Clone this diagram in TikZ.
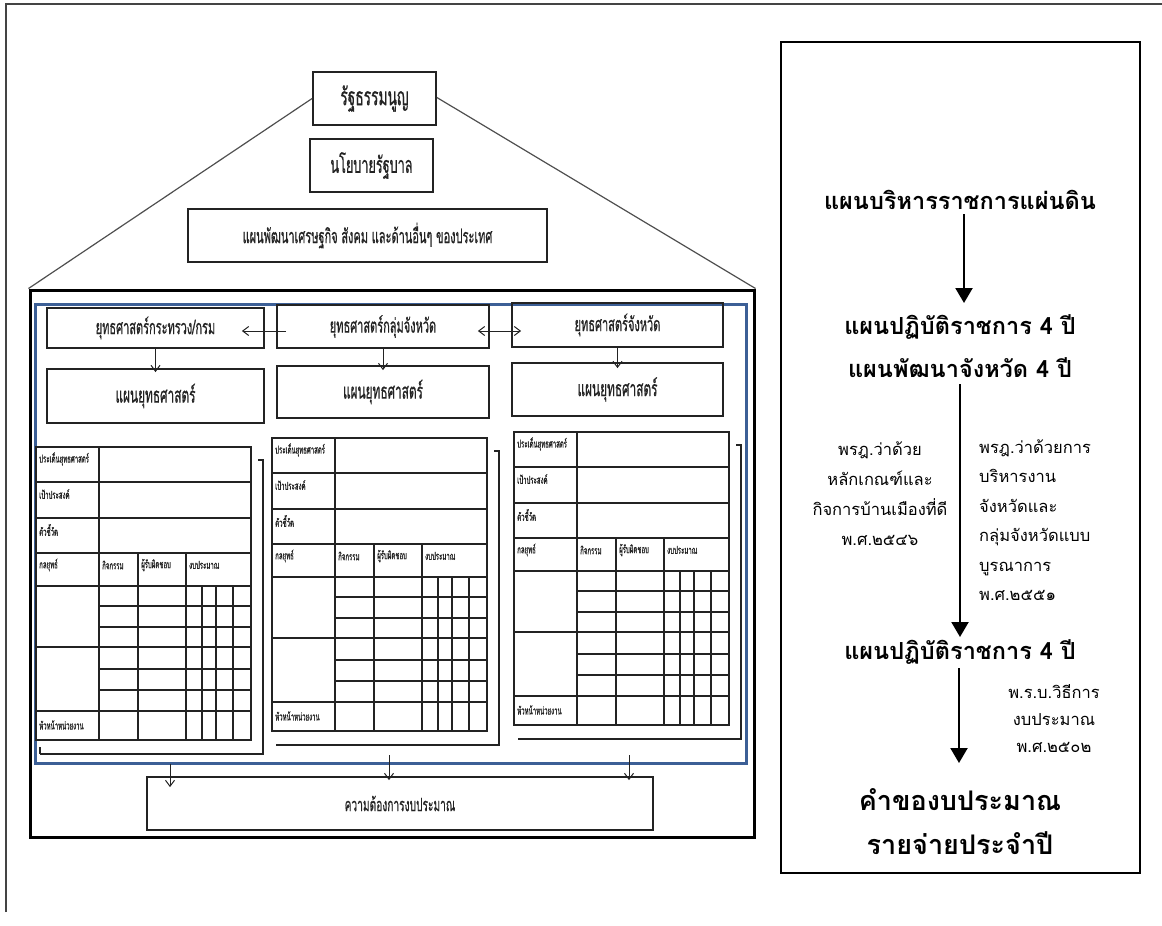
\documentclass[tikz,border=0pt]{standalone}
\usepackage{fontspec}
\setmainfont[Script=Thai]{Loma}
\newfontfamily\thc[Script=Thai,FakeStretch=0.55,FakeBold=0.6]{Loma}
\usetikzlibrary{arrows.meta,calc}
\definecolor{frameblue}{RGB}{60,95,150}
\definecolor{ink}{RGB}{35,35,35}
\tikzset{
  lbox/.style={draw=ink, line width=1.8pt, inner sep=1pt, font=\thc\fontsize{20}{22}\selectfont, text=ink},
  arr/.style={draw=ink, line width=1pt, -{Straight Barb[length=6pt,width=9pt]}},
  darr/.style={draw=ink, line width=1pt, {Straight Barb[length=6pt,width=9pt]}-{Straight Barb[length=6pt,width=9pt]}},
  bigarr/.style={draw=black, line width=2.2pt, -{Triangle[length=15pt,width=17pt]}},
  tline/.style={draw=ink, line width=1.4pt},
  tlab/.style={anchor=west, inner sep=0pt, font=\thc\fontsize{11}{12}\selectfont, text=ink},
  ttl/.style={font=\bfseries\fontsize{23.5}{26}\selectfont, inner sep=0pt},
  big/.style={font=\bfseries\fontsize{27}{29}\selectfont, inner sep=0pt},
  note/.style={font=\fontsize{16.5}{30}\selectfont, inner sep=0pt},
}
\newcommand{\formtab}[3]{%
  \begin{scope}[shift={(#2,#3)}]
    \draw[tline] (0,0) rectangle (215,293);
    \foreach \r in {35,71,106,139,200,264} \draw[tline] (0,\r) -- (215,\r);
    \foreach \r in {159,180,222,243} \draw[tline] (63,\r) -- (215,\r);
    \draw[tline] (63,0) -- (63,293);
    \foreach \c in {102,150} \draw[tline] (\c,106) -- (\c,293);
    \foreach \c in {166,180,197} \draw[tline] (\c,139) -- (\c,293);
    \node[tlab] (#1a) at (3,12) {ประเด็นยุทธศาสตร์};
    \node[tlab] (#1b) at (3,47) {เป้าประสงค์};
    \node[tlab] (#1c) at (3,83) {ตัวชี้วัด};
    \node[tlab] (#1d) at (3,118) {กลยุทธ์};
    \node[tlab] (#1e) at (66,118) {กิจกรรม};
    \node[tlab] (#1f) at (105,118) {ผู้รับผิดชอบ};
    \node[tlab] (#1g) at (153,118) {งบประมาณ};
    \node[tlab] (#1h) at (3,278) {หัวหน้าหน่วยงาน};
    \draw[tline, line width=1.6pt] (222,13) -- (227,13) -- (227,307) -- (4,307);
  \end{scope}}
\begin{document}
\begin{tikzpicture}[x=1pt,y=-1pt]
\useasboundingbox (0,0) rectangle (1162,926);
% outer frame lines
\draw[draw=ink!85, line width=1.4pt] (6,912) -- (6,4) -- (1162,4);
% top pyramid
\node[lbox, minimum width=123, minimum height=53, font=\thc\fontsize{25}{27}\selectfont] (const) at (374.5,98.5) {รัฐธรรมนูญ};
\node[lbox, minimum width=123, minimum height=53, font=\thc\fontsize{23}{25}\selectfont] (policy) at (371.5,165.5) {นโยบายรัฐบาล};
\node[lbox, minimum width=359, minimum height=53] (plan) at (367.5,235.5) {แผนพัฒนาเศรษฐกิจ สังคม และด้านอื่นๆ ของประเทศ};
% big frames
\node[draw=black, line width=3pt, minimum width=724, minimum height=547, inner sep=0pt] (outer) at (392,563.5) {};
\node[draw=frameblue, line width=3pt, minimum width=711, minimum height=459, inner sep=0pt] (blue) at (390.5,533.5) {};
\draw[draw=ink!80, line width=1.2pt] (const.west) -- (outer.north west);
\draw[draw=ink!80, line width=1.2pt] ($(const.east)+(0,-1)$) -- (outer.north east);
% header boxes
\node[lbox, minimum width=217, minimum height=40] (minT) at (155.5,328) {ยุทธศาสตร์กระทรวง/กรม};
\node[lbox, minimum width=212, minimum height=43] (grpT) at (383,326.5) {ยุทธศาสตร์กลุ่มจังหวัด};
\node[lbox, minimum width=211, minimum height=44] (provT) at (617.5,325) {ยุทธศาสตร์จังหวัด};
\node[lbox, minimum width=217, minimum height=54, font=\thc\fontsize{21.5}{23}\selectfont] (minP) at (155.5,396) {แผนยุทธศาสตร์};
\node[lbox, minimum width=212, minimum height=52, font=\thc\fontsize{21.5}{23}\selectfont] (grpP) at (383,392) {แผนยุทธศาสตร์};
\node[lbox, minimum width=211, minimum height=53, font=\thc\fontsize{21.5}{23}\selectfont] (provP) at (617.5,389.5) {แผนยุทธศาสตร์};
\draw[arr] ($(grpT.west)+(10,4.5)$) -- ($(minT.east)+(-23,3)$);
\draw[darr] ($(grpT.east)+(-12,4.5)$) -- ($(provT.west)+(10,6)$);
\draw[arr] (minT.south) -- ($(minP.north)+(0,4)$);
\draw[arr] (grpT.south) -- ($(grpP.north)+(0,5)$);
\draw[arr] (provT.south) -- ($(provP.north)+(0,6)$);
% forms
\formtab{ta}{36}{447}
\draw[tline, line width=1.6pt] (40,747) -- (40,754);
\formtab{tb}{272}{438}
\formtab{tc}{514}{432}
% need box
\node[lbox, minimum width=506, minimum height=53, font=\thc\fontsize{18.5}{20}\selectfont] (need) at (400,803.5) {ความต้องการงบประมาณ};
\coordinate (s1) at (170,764);
\coordinate (s2) at (389,755);
\coordinate (s3) at (629,755);
\draw[arr] (s1) -- ($(need.north west -| s1)+(0,11)$);
\draw[arr] (s2) -- ($(need.north west -| s2)+(0,4)$);
\draw[arr] (s3) -- ($(need.north west -| s3)+(0,4)$);
% right panel
\node[draw=black, line width=2.4pt, minimum width=359, minimum height=831, inner sep=0pt] (panel) at (960.5,457.5) {};
\node[ttl] (t1) at (960,200) {แผนบริหารราชการแผ่นดิน};
\node[ttl] (t2a) at (960,327) {แผนปฏิบัติราชการ 4 ปี};
\node[ttl] (t2b) at (960,368) {แผนพัฒนาจังหวัด 4 ปี};
\node[ttl] (t3) at (960,652) {แผนปฏิบัติราชการ 4 ปี};
\node[big] (t4) at (960,800) {คำของบประมาณ};
\node[big] (t5) at (960,843) {รายจ่ายประจำปี};
\coordinate (a1s) at (964,214);
\coordinate (a1e) at (964,303);
\draw[bigarr] (a1s) -- (a1e);
\coordinate (a2s) at (960,384);
\coordinate (a2e) at (960,637);
\draw[bigarr] (a2s) -- (a2e);
\coordinate (a3s) at (959,668);
\coordinate (a3e) at (959,763);
\draw[bigarr] (a3s) -- (a3e);
\node[note, align=center] (n1) at (880,494) {พรฎ.ว่าด้วย\\หลักเกณฑ์และ\\กิจการบ้านเมืองที่ดี\\พ.ศ.๒๕๔๖};
\node[note, align=left, anchor=west, font=\fontsize{16.5}{29.5}\selectfont] (n2) at (979,520) {พรฎ.ว่าด้วยการ\\บริหารงาน\\จังหวัดและ\\กลุ่มจังหวัดแบบ\\บูรณาการ\\พ.ศ.๒๕๕๑};
\node[note, align=center, font=\fontsize{16.5}{27}\selectfont] (n3) at (1054,719) {พ.ร.บ.วิธีการ\\งบประมาณ\\พ.ศ.๒๕๐๒};
\end{tikzpicture}
\end{document}
